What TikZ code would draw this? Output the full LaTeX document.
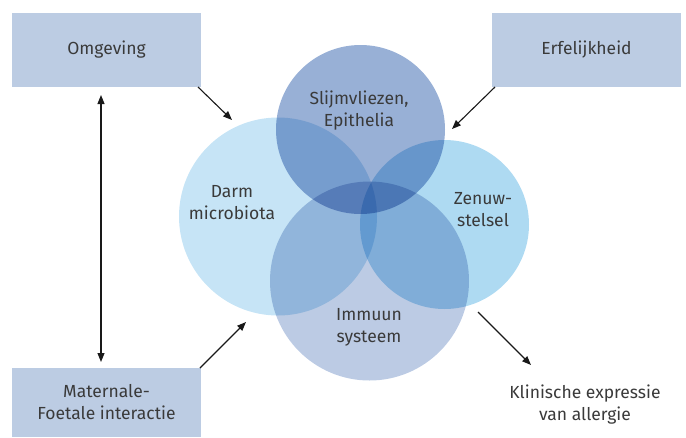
\documentclass[tikz,border=0pt]{standalone}
\usepackage{fontspec}
\setmainfont{Fira Sans}
\usetikzlibrary{arrows.meta}
\definecolor{boxc}{HTML}{BCCCE3}
\definecolor{cleft}{HTML}{C6E4F6}
\definecolor{ctop}{HTML}{98B0D6}
\definecolor{cright}{HTML}{AEDAF2}
\definecolor{cbot}{HTML}{BCCBE4}
\definecolor{txt}{HTML}{3A3A3A}
\tikzset{
  factor/.style={fill=boxc, draw=none, inner sep=0pt, text=txt, align=center},
  ring/.style={circle, draw=none, inner sep=0pt},
  lbl/.style={text=txt, align=center, inner sep=0pt},
  arr/.style={draw=black!90, line width=1.1pt, -{Triangle[length=9pt,width=7pt]}},
  darr/.style={draw=black!90, line width=1.1pt, {Triangle[length=9pt,width=7pt]}-{Triangle[length=9pt,width=7pt]}},
}
\begin{document}
\begin{tikzpicture}[x=1pt,y=-1pt, font=\fontsize{17.5}{22}\selectfont]
\useasboundingbox (0,0) rectangle (686,437);
% boxes
\node[factor, minimum width=189pt, minimum height=74pt] (omg) at (106.5,50) {Omgeving};
\node[factor, minimum width=189pt, minimum height=74pt] (erf) at (586.5,50) {Erfelijkheid};
\node[factor, minimum width=189pt, minimum height=69pt] (mat) at (106.5,402.5) {Maternale-\\Foetale interactie};
% circles
\begin{scope}[blend mode=multiply]
\node[ring, fill=cleft, minimum size=198pt] (darm) at (278,216.5) {};
\node[ring, fill=ctop, minimum size=169pt] (slijm) at (360.5,129.5) {};
\node[ring, fill=cright, minimum size=169pt] (zenuw) at (444.5,224.5) {};
\node[ring, fill=cbot, minimum size=199pt] (immuun) at (369.5,281) {};
\end{scope}
% labels
\node[lbl] (tslijm) at (359,111) {Slijmvliezen,\\Epithelia};
\node[lbl] (tdarm) at (232,203) {Darm\\microbiota};
\node[lbl] (tzenuw) at (483,210) {Zenuw-\\stelsel};
\node[lbl] (timm) at (369,327) {Immuun\\systeem};
\node[lbl] (klin) at (585,405) {Klinische expressie\\van allergie};
% arrow endpoints
\coordinate (a1s) at (198,87);
\coordinate (a1e) at (232,120);
\coordinate (a2s) at (495,87);
\coordinate (a2e) at (452,129);
\coordinate (a3s) at (101,95);
\coordinate (a3e) at (101,362);
\coordinate (a4s) at (200,368);
\coordinate (a4e) at (246,322);
\coordinate (a5s) at (478,312);
\coordinate (a5e) at (531,365);
\draw[arr] (a1s) -- (a1e);
\draw[arr] (a2s) -- (a2e);
\draw[darr] (a3s) -- (a3e);
\draw[arr] (a4s) -- (a4e);
\draw[arr] (a5s) -- (a5e);
\end{tikzpicture}
\end{document}
